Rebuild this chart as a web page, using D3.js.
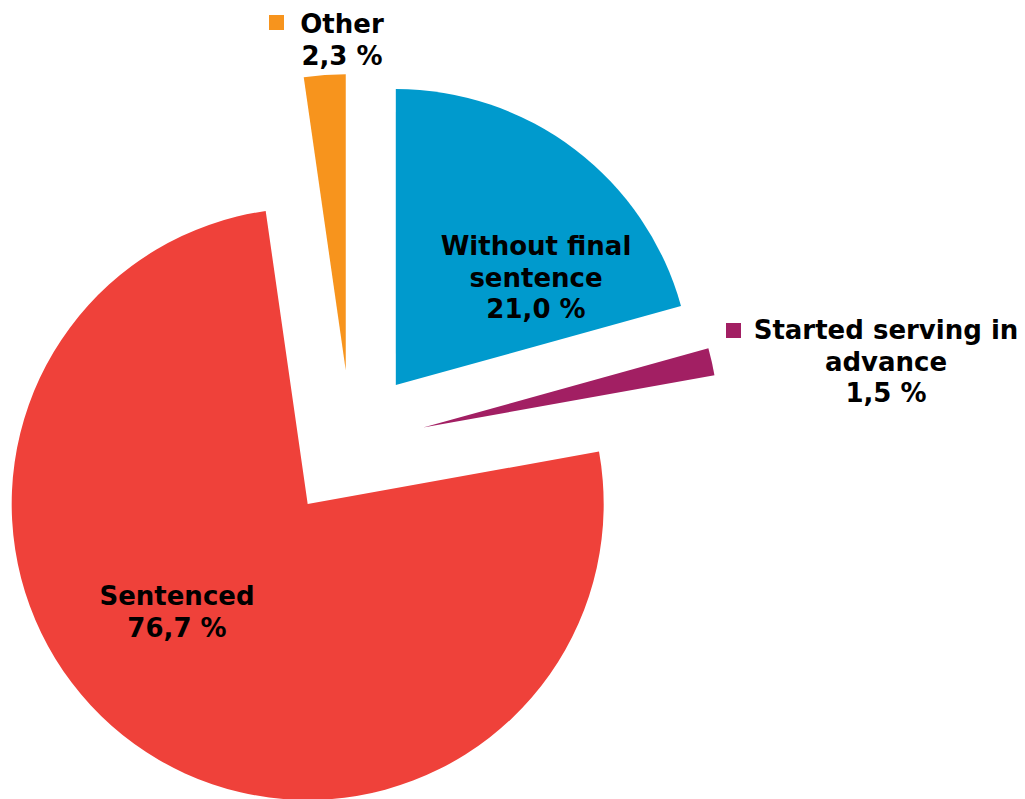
<!DOCTYPE html>
<html>
<head>
<meta charset="utf-8">
<style>
  body { margin: 0; background: #fff; }
  svg text { font-family: "DejaVu Sans", Verdana, sans-serif; font-weight: bold; fill: #000; }
</style>
</head>
<body>
<svg width="1025" height="799"></svg>
<script src="https://d3js.org/d3.v7.min.js"></script>
<script>
// data, clockwise from 12 o'clock
var categories = ["Without final sentence", "Started serving in advance", "Sentenced", "Other"];
var values = [21.0, 1.5, 76.7, 2.3];
var valueLabels = ["21,0 %", "1,5 %", "76,7 %", "2,3 %"];
var labelLines = [["Without final", "sentence"], ["Started serving in", "advance"], ["Sentenced"], ["Other"]];
var colors = ["#009ACD", "#A21F63", "#EF413A", "#F7941D"];

// layout
var cx = 351, cy = 444, radius = 296, explode = 74;
var lineH = 31.5;
// label anchor (centre x, first baseline y) and whether it carries a legend key
var labelPos = [
  { x: 536, y: 255, key: false },
  { x: 886, y: 339, key: true, kx: 726, ky: 323 },
  { x: 177, y: 605, key: false },
  { x: 342, y: 33, key: true, kx: 269, ky: 15 }
];

var svg = d3.select("svg");
var g = svg.append("g").attr("transform", "translate(" + cx + "," + cy + ")");

var pie = d3.pie().sort(null).value(function(d) { return d; });
var arc = d3.arc().innerRadius(0).outerRadius(radius);
var arcs = pie(values);

g.selectAll("path.slice")
  .data(arcs)
  .enter().append("path")
  .attr("class", "slice")
  .attr("fill", function(d, i) { return colors[i]; })
  .attr("transform", function(d) {
    var a = (d.startAngle + d.endAngle) / 2;
    return "translate(" + (explode * Math.sin(a)) + "," + (-explode * Math.cos(a)) + ")";
  })
  .attr("d", arc);

// labels
var lab = svg.append("g");
categories.forEach(function(c, i) {
  var p = labelPos[i];
  var lines = labelLines[i].concat([valueLabels[i]]);
  var t = lab.append("text")
    .attr("text-anchor", "middle")
    .attr("font-size", 26);
  lines.forEach(function(l, j) {
    t.append("tspan").attr("x", p.x).attr("y", p.y + j * lineH).text(l);
  });
  if (p.key) {
    lab.append("rect")
      .attr("x", p.kx).attr("y", p.ky)
      .attr("width", 15).attr("height", 15)
      .attr("fill", colors[i]);
  }
});
</script>
</body>
</html>
